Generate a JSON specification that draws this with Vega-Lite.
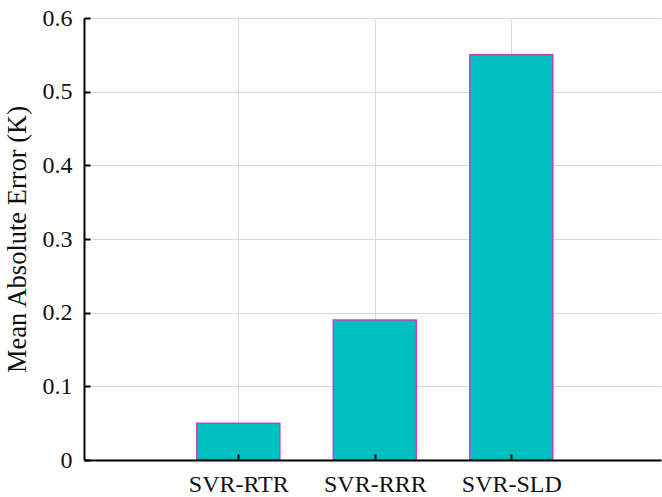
{
  "$schema": "https://vega.github.io/schema/vega-lite/v6.json",
  "width": 577,
  "height": 442,
  "autosize": "none",
  "padding": {"left": 84, "top": 18, "right": 1, "bottom": 37},
  "background": "white",
  "config": {
    "view": {"stroke": null},
    "font": "Times New Roman, Liberation Serif, serif"
  },
  "data": {
    "values": [
      {"pos": 1, "model": "SVR-RTR", "mae": 0.05},
      {"pos": 2, "model": "SVR-RRR", "mae": 0.19},
      {"pos": 3, "model": "SVR-SLD", "mae": 0.55}
    ]
  },
  "resolve": {"axis": {"x": "independent", "y": "independent"}},
  "layer": [
    {
      "mark": {"type": "bar", "size": 83, "fill": "#00bfbf", "stroke": "#c23ec2", "strokeWidth": 1.5},
      "encoding": {
        "x": {
          "field": "pos", "type": "quantitative",
          "scale": {"domain": [-0.094, 4.06], "nice": false, "zero": false},
          "axis": {"orient": "bottom", "values": [1, 2, 3], "grid": true, "gridColor": "#dadada", "gridWidth": 1,
                   "domain": false, "ticks": false, "labels": false, "title": null, "zindex": 0}
        },
        "y": {
          "field": "mae", "type": "quantitative",
          "scale": {"domain": [0, 0.6], "nice": false},
          "axis": {"orient": "left", "values": [0.1, 0.2, 0.3, 0.4, 0.5, 0.6], "grid": true, "gridColor": "#dadada", "gridWidth": 1,
                   "domain": false, "ticks": false, "labels": false, "title": null, "zindex": 0}
        }
      }
    },
    {
      "mark": {"type": "point", "opacity": 0},
      "encoding": {
        "x": {
          "field": "pos", "type": "quantitative",
          "axis": {"orient": "bottom", "values": [1, 2, 3], "grid": false,
                   "labelExpr": "datum.value == 1 ? 'SVR-RTR' : datum.value == 2 ? 'SVR-RRR' : 'SVR-SLD'",
                   "labelFont": "Times New Roman, Liberation Serif, serif", "labelFontSize": 24, "labelColor": "#111",
                   "labelPadding": 18, "labelFlush": false,
                   "domainColor": "#000", "domainWidth": 2, "tickColor": "#000", "tickWidth": 2, "tickSize": -6,
                   "title": null, "zindex": 1}
        },
        "y": {
          "field": "mae", "type": "quantitative",
          "title": "Mean Absolute Error (K)",
          "axis": {"orient": "left", "values": [0, 0.1, 0.2, 0.3, 0.4, 0.5, 0.6], "format": ".1~f", "grid": false,
                   "labelFont": "Times New Roman, Liberation Serif, serif", "labelFontSize": 24, "labelColor": "#111",
                   "labelPadding": 18, "labelFlush": false,
                   "domainColor": "#000", "domainWidth": 2, "tickColor": "#000", "tickWidth": 2, "tickSize": -6,
                   "titleFont": "Times New Roman, Liberation Serif, serif", "titleFontSize": 26.5, "titleFontWeight": "normal", "titleColor": "#111",
                   "titlePadding": 11, "zindex": 1}
        }
      }
    }
  ]
}
